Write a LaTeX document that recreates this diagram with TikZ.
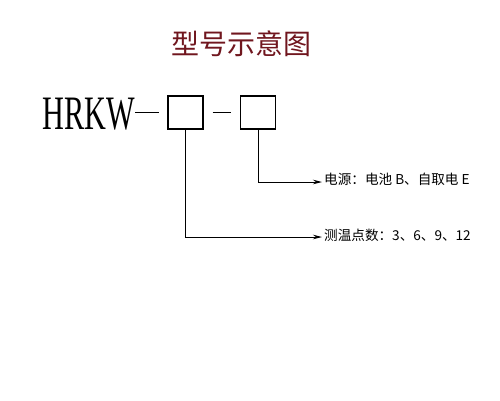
\documentclass[tikz,border=0pt]{standalone}
\usepackage{fontspec}
\setmainfont{Liberation Serif}
\newfontfamily\cjk{Noto Sans CJK SC}
\newfontfamily\modelfont[FakeStretch=0.63]{Liberation Serif}
\usetikzlibrary{arrows.meta, positioning}
\definecolor{titleRed}{RGB}{112,22,30}
\newcommand\slotW{35}
\newcommand\slotH{33}
\newcommand\tipX{322}
\tikzset{
    slot/.style={draw, line width=1.3pt, minimum width=\slotW pt, minimum height=\slotH pt, inner sep=0pt},
    joiner/.style={line width=1pt},
    leader/.style={line width=0.9pt, -{Stealth[length=9pt, width=4.5pt]}},
    note/.style={anchor=west, inner sep=0pt, font=\cjk\fontsize{13.6}{13.6}\selectfont}
}

\begin{document}
\begin{tikzpicture}[x=1pt, y=-1pt]
    \useasboundingbox (0,0) rectangle (500,400);

    \node[text=titleRed, font=\cjk\fontsize{28}{28}\selectfont] (title) at (241,44) {型号示意图};

    % model code
    \node[anchor=base west, inner sep=0pt, font=\modelfont\fontsize{48}{48}\selectfont] (model) at (42,129) {HRKW};
    \node[slot] (slotA) at (185.5,112.5) {};
    \node[slot] (slotB) at (258,112.5) {};
    \draw[joiner] ([xshift=-32pt]slotA.west) -- ([xshift=-8pt]slotA.west);
    \draw[joiner] ([xshift=9pt]slotA.east) -- ([xshift=-9pt]slotB.east -| slotB.west);

    % notes
    \node[note] (power) at (324,179) {电源：电池 B、自取电 E};
    \node[note] (points) at (324,235) {测温点数：3、6、9、12};
    \coordinate (powerTip) at (\tipX,182);
    \coordinate (pointsTip) at (\tipX,237);
    \draw[leader] (slotB.south) |- (powerTip);
    \draw[leader] (slotA.south) |- (pointsTip);
\end{tikzpicture}
\end{document}
